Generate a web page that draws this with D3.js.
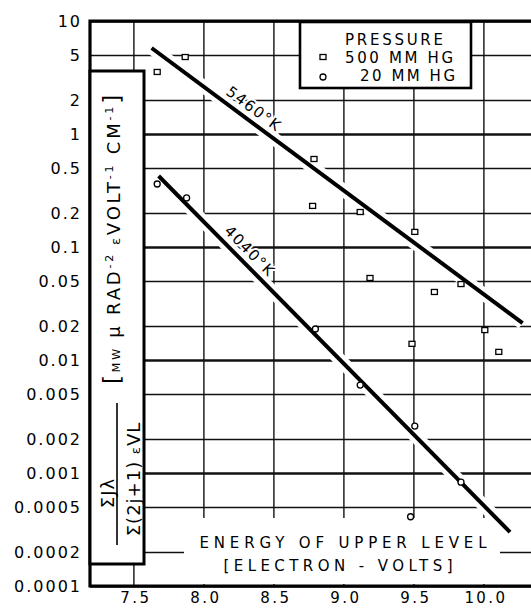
<!DOCTYPE html>
<html>
<head>
<meta charset="utf-8">
<script src="https://cdn.jsdelivr.net/npm/d3@7"></script>
<style>
body{margin:0;background:#fff;}
svg{display:block;font-family:"DejaVu Sans",sans-serif;}
</style>
</head>
<body>
<script>
// values
var yTicks = [10,5,2,1,0.5,0.2,0.1,0.05,0.02,0.01,0.005,0.002,0.001,0.0005,0.0002,0.0001];
var yTickLabels = ["10","5","2","1","0.5","0.2","0.1","0.05","0.02","0.01","0.005","0.002","0.001","0.0005","0.0002","0.0001"];
var xTicks = [7.5,8.0,8.5,9.0,9.5,10.0];
var xTickLabels = ["7.5","8.0","8.5","9.0","9.5","10.0"];

// 500 mm Hg (squares)
var hiEnergy = [7.67,7.87,8.79,8.78,9.12,9.51,9.19,9.65,9.84,10.01,9.49,10.11];
var hiValue  = [3.54,4.80,0.601,0.231,0.204,0.136,0.0532,0.040,0.047,0.0184,0.0139,0.0118];
// 20 mm Hg (circles)
var loEnergy = [7.67,7.88,8.80,9.12,9.51,9.84,9.48];
var loValue  = [0.361,0.272,0.0188,0.0060,0.0026,0.00083,0.00041];

// fitted temperature lines (end points)
var fitLabels = ["5460°K","4040°K"];
var fitEnergy = [[7.63,10.28],[7.68,10.19]];
var fitValue  = [[5.77,0.0212],[0.425,0.0003]];
var fitLabelAt = [8.31,8.27];

var W = 531, H = 608;
var margin = {top:21, right:0, bottom:22, left:90};

var x = d3.scaleLinear().domain([7.19,10.34]).range([margin.left, W]);
var y = d3.scaleLog().domain([0.0001,10]).range([H-margin.bottom, margin.top]);

var svg = d3.select("body").append("svg")
    .attr("width",W).attr("height",H);

//gridlines
var decades = [10,1,0.1,0.01,0.001,0.0001];
svg.append("g")
    .attr("transform","translate("+margin.left+",0)")
    .call(d3.axisLeft(y).tickValues(yTicks).tickSize(-(W-margin.left)).tickFormat(""))
    .call(function(g){
        g.select(".domain").remove();
        g.selectAll(".tick line")
            .attr("stroke","#111")
            .attr("stroke-width",function(d){return decades.indexOf(d)>=0 ? 2.6 : 1.4;});
    });
svg.append("g")
    .attr("transform","translate(0,"+y(0.0001)+")")
    .call(d3.axisBottom(x).tickValues(xTicks).tickSize(-(y(0.0001)-y(10))).tickFormat(""))
    .call(function(g){
        g.select(".domain").remove();
        g.selectAll(".tick line").attr("stroke","#111").attr("stroke-width",1.4);
    });

// white panel behind x title
svg.append("rect")
    .attr("x",184).attr("y",518).attr("width",316).attr("height",66)
    .attr("fill","#fff");

//fit lines, with white underlay that breaks the grid
var fits = fitLabels.map(function(l,i){
    return {label:l, pts:[[fitEnergy[i][0],fitValue[i][0]],[fitEnergy[i][1],fitValue[i][1]]], at:fitLabelAt[i]};
});
var line = d3.line().x(function(d){return x(d[0]);}).y(function(d){return y(d[1]);});
svg.selectAll(".halo").data(fits).enter().append("path")
    .attr("d",function(d){return line(d.pts);})
    .attr("stroke","#fff").attr("stroke-width",13).attr("fill","none");
svg.selectAll(".fit").data(fits).enter().append("path")
    .attr("d",function(d){return line(d.pts);})
    .attr("stroke","#000").attr("stroke-width",4).attr("fill","none");

svg.selectAll(".fitlab").data(fits).enter().append("text")
    .attr("transform",function(d){
        var p0 = [x(d.pts[0][0]),y(d.pts[0][1])], p1 = [x(d.pts[1][0]),y(d.pts[1][1])];
        var t = (x(d.at)-p0[0])/(p1[0]-p0[0]);
        var px = x(d.at), py = p0[1]+t*(p1[1]-p0[1]);
        var ang = Math.atan2(p1[1]-p0[1],p1[0]-p0[0])*180/Math.PI;
        return "translate("+px+","+py+") rotate("+ang+")";
    })
    .attr("dy",-7)
    .attr("text-anchor","middle")
    .style("font-size","15px")
    .style("letter-spacing","1.5px")
    .style("paint-order","stroke")
    .attr("stroke","#fff").attr("stroke-width",4)
    .attr("fill","#000")
    .text(function(d){return d.label;});

// frame
svg.append("path")
    .attr("d","M"+W+","+y(10)+"H"+x.range()[0]+"V"+y(0.0001)+"H"+W)
    .attr("fill","none").attr("stroke","#000").attr("stroke-width",3.2);

//y tick labels
svg.append("g")
    .attr("transform","translate(82,0)")
    .call(d3.axisLeft(y).tickValues(yTicks).tickSize(0).tickPadding(0)
        .tickFormat(function(d,i){return yTickLabels[i];}))
    .call(function(g){
        g.select(".domain").remove();
        g.selectAll("text").attr("font-family","DejaVu Sans").attr("font-size",16)
            .style("letter-spacing","2px").attr("fill","#000");
    });

//x tick labels
svg.append("g")
    .attr("transform","translate(2,"+(y(0.0001))+")")
    .call(d3.axisBottom(x).tickValues(xTicks).tickSize(0).tickPadding(6)
        .tickFormat(function(d,i){return xTickLabels[i];}))
    .call(function(g){
        g.select(".domain").remove();
        g.selectAll("text").attr("font-family","DejaVu Sans").attr("font-size",15)
            .style("letter-spacing","2.4px").attr("fill","#000");
    });

// y title box
svg.append("rect")
    .attr("x",90).attr("y",71).attr("width",54).attr("height",493)
    .attr("fill","#fff").attr("stroke","#000").attr("stroke-width",3);

var unit = svg.append("text")
    .attr("transform","translate(120,238) rotate(-90)")
    .attr("text-anchor","middle")
    .style("font-size","18px")
    .style("letter-spacing","2.8px");
unit.append("tspan").text("[").style("font-size","23px");
unit.append("tspan").text("MW").style("font-size","11px");
unit.append("tspan").text(" μ RAD");
unit.append("tspan").text("-2").attr("dy",-7).style("font-size","11px");
unit.append("tspan").text(" ε").attr("dy",7).style("font-size","13px");
unit.append("tspan").text("VOLT");
unit.append("tspan").text("-1").attr("dy",-7).style("font-size","11px");
unit.append("tspan").text(" CM").attr("dy",7);
unit.append("tspan").text("-1").attr("dy",-7).style("font-size","11px");
unit.append("tspan").text("]").attr("dy",7).style("font-size","23px");

svg.append("text")
    .attr("transform","translate(114,493) rotate(-90)")
    .attr("text-anchor","middle")
    .style("font-size","18px").style("letter-spacing","1px")
    .text("ΣJλ");
svg.append("line")
    .attr("x1",117).attr("x2",117).attr("y1",403).attr("y2",545)
    .attr("stroke","#000").attr("stroke-width",1.6);
var den = svg.append("text")
    .attr("transform","translate(140,479) rotate(-90)")
    .attr("text-anchor","middle")
    .style("font-size","18px").style("letter-spacing","1px");
den.append("tspan").text("Σ(2j+1) ");
den.append("tspan").text("ε").style("font-size","13px");
den.append("tspan").text("VL");

// x title
svg.append("text")
    .attr("x",343).attr("y",548)
    .attr("text-anchor","middle")
    .attr("textLength",287).attr("lengthAdjust","spacing")
    .style("font-size","15px")
    .text("ENERGY OF UPPER LEVEL");
svg.append("text")
    .attr("x",338).attr("y",571)
    .attr("text-anchor","middle")
    .attr("textLength",229).attr("lengthAdjust","spacing")
    .style("font-size","15px")
    .text("[ELECTRON - VOLTS]");

// legend
var leg = svg.append("g");
leg.append("rect")
    .attr("x",300).attr("y",22).attr("width",171).attr("height",66)
    .attr("fill","#fff").attr("stroke","#000").attr("stroke-width",2.6);
leg.append("text").attr("x",345).attr("y",45)
    .attr("textLength",98).attr("lengthAdjust","spacing")
    .style("font-size","15px").text("PRESSURE");
leg.append("text").attr("x",345).attr("y",63)
    .attr("textLength",108).attr("lengthAdjust","spacing")
    .style("font-size","15px").text("500 MM HG");
leg.append("text").attr("x",360).attr("y",81)
    .attr("textLength",95).attr("lengthAdjust","spacing")
    .style("font-size","15px").text("20 MM HG");
leg.append("rect").attr("x",320).attr("y",54.5).attr("width",6).attr("height",5)
    .attr("fill","#fff").attr("stroke","#000").attr("stroke-width",1.3);
leg.append("circle").attr("cx",323).attr("cy",77).attr("r",3)
    .attr("fill","#fff").attr("stroke","#000").attr("stroke-width",1.3);

// markers
svg.selectAll(".sq").data(d3.zip(hiEnergy,hiValue)).enter().append("rect")
    .attr("x",function(d){return x(d[0])-3;})
    .attr("y",function(d){return y(d[1])-2.5;})
    .attr("width",6).attr("height",5)
    .attr("fill","#fff").attr("stroke","#000").attr("stroke-width",1.3);
svg.selectAll(".ci").data(d3.zip(loEnergy,loValue)).enter().append("circle")
    .attr("cx",function(d){return x(d[0]);})
    .attr("cy",function(d){return y(d[1]);})
    .attr("r",3)
    .attr("fill","#fff").attr("stroke","#000").attr("stroke-width",1.3);
</script>
</body>
</html>
